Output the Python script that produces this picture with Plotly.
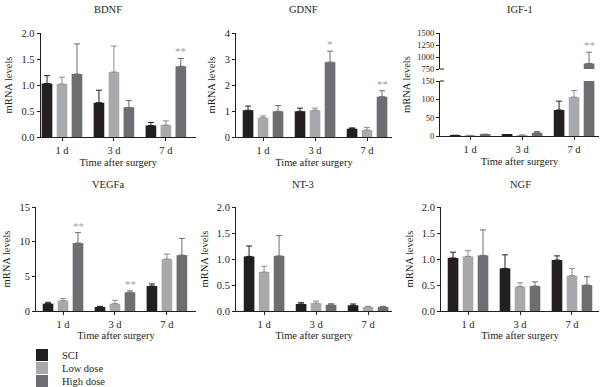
import plotly.graph_objects as go

# ---------------- data ----------------
groups = ["1 d", "3 d", "7 d"]
series_names = ["SCI", "Low dose", "High dose"]

bdnf_sci = [1.03, 0.66, 0.22]
bdnf_sci_err = [0.15, 0.24, 0.06]
bdnf_low = [1.02, 1.25, 0.23]
bdnf_low_err = [0.13, 0.50, 0.08]
bdnf_high = [1.21, 0.57, 1.36]
bdnf_high_err = [0.58, 0.13, 0.15]
bdnf_sig = ["", "", "**"]

gdnf_sci = [1.03, 0.99, 0.32]
gdnf_sci_err = [0.16, 0.12, 0.03]
gdnf_low = [0.74, 1.03, 0.27]
gdnf_low_err = [0.07, 0.08, 0.10]
gdnf_high = [0.99, 2.88, 1.55]
gdnf_high_err = [0.22, 0.42, 0.23]
gdnf_sig = ["", "*", "**"]

igf_sci = [1.5, 3.0, 71]
igf_sci_err = [0.5, 0.5, 24]
igf_low = [1.0, 2.0, 106]
igf_low_err = [1.0, 1.0, 18]
igf_high = [3.0, 9.0, 865]
igf_high_err = [2.0, 3.0, 235]
igf_sig = ["", "", "**"]

vegfa_sci = [1.06, 0.58, 3.6]
vegfa_sci_err = [0.19, 0.10, 0.3]
vegfa_low = [1.5, 1.06, 7.5]
vegfa_low_err = [0.3, 0.48, 0.7]
vegfa_high = [9.8, 2.7, 8.06]
vegfa_high_err = [1.5, 0.2, 2.41]
vegfa_sig = ["**", "**", ""]

nt3_sci = [1.05, 0.135, 0.11]
nt3_sci_err = [0.20, 0.025, 0.025]
nt3_low = [0.75, 0.15, 0.08]
nt3_low_err = [0.11, 0.04, 0.01]
nt3_high = [1.06, 0.12, 0.08]
nt3_high_err = [0.39, 0.02, 0.01]
nt3_sig = ["", "", ""]

ngf_sci = [1.02, 0.82, 0.98]
ngf_sci_err = [0.11, 0.26, 0.08]
ngf_low = [1.05, 0.47, 0.68]
ngf_low_err = [0.11, 0.07, 0.14]
ngf_high = [1.07, 0.48, 0.50]
ngf_high_err = [0.49, 0.08, 0.16]
ngf_sig = ["", "", ""]

# ---------------- style ----------------
FONT = "Liberation Serif"
FS = 10.5
INK = "#231f20"
colors = ["#231f20", "#a7a9ac", "#6d6e71"]
err_colors = ["#231f20", "#8a8c8e", "#6d6e71"]
SIG_COLOR = "#a0a2a5"

W, H = 600, 387
def px_x(p):
    return p / W
def px_y(p):
    return 1 - p / H

fig = go.Figure()

panels = [
    dict(name="BDNF", xa="x", ya="y",
         data=[(bdnf_sci, bdnf_sci_err), (bdnf_low, bdnf_low_err), (bdnf_high, bdnf_high_err)],
         sig=bdnf_sig, xd=(40.7, 196), yd=(137, 33), xr=[-0.41, 2.58], yr=[0, 2], dt=0.5, fmt=".1f",
         title_x=108, title_y=9),
    dict(name="GDNF", xa="x2", ya="y2",
         data=[(gdnf_sci, gdnf_sci_err), (gdnf_low, gdnf_low_err), (gdnf_high, gdnf_high_err)],
         sig=gdnf_sig, xd=(236, 392), yd=(137, 33), xr=[-0.52, 2.48], yr=[0, 4], dt=1, fmt="d",
         title_x=303, title_y=9),
    dict(name="VEGFa", xa="x5", ya="y5",
         data=[(vegfa_sci, vegfa_sci_err), (vegfa_low, vegfa_low_err), (vegfa_high, vegfa_high_err)],
         sig=vegfa_sig, xd=(36, 196), yd=(311, 207), xr=[-0.52, 2.56], yr=[0, 15], dt=5, fmt="d",
         title_x=108, title_y=184),
    dict(name="NT-3", xa="x6", ya="y6",
         data=[(nt3_sci, nt3_sci_err), (nt3_low, nt3_low_err), (nt3_high, nt3_high_err)],
         sig=nt3_sig, xd=(236, 392), yd=(311, 207), xr=[-0.54, 2.46], yr=[0, 2], dt=0.5, fmt=".1f",
         title_x=303, title_y=184),
    dict(name="NGF", xa="x7", ya="y7",
         data=[(ngf_sci, ngf_sci_err), (ngf_low, ngf_low_err), (ngf_high, ngf_high_err)],
         sig=ngf_sig, xd=(441, 599), yd=(311, 207), xr=[-0.52, 2.52], yr=[0, 2], dt=0.5, fmt=".1f",
         title_x=520, title_y=184),
]

xs = [0, 1, 2]
tickfont = dict(family=FONT, size=FS, color=INK)
titlefont = dict(family=FONT, size=FS, color=INK)

def axis_name(a):
    return ("xaxis" if a.startswith("x") else "yaxis") + a[1:]

def add_bars(xa, ya, data, legend_first=False):
    for i, (vals, errs) in enumerate(data):
        if legend_first:
            kw = dict(showlegend=True, legend=["legend", "legend2", "legend3"][i])
        else:
            kw = dict(showlegend=False)
        fig.add_trace(go.Bar(
            x=xs, y=vals, name=series_names[i], xaxis=xa, yaxis=ya,
            marker=dict(color=colors[i], line=dict(width=0)),
            error_y=dict(type="data", array=errs, arrayminus=[0] * len(errs), symmetric=False,
                         color=err_colors[i], thickness=1, width=3),
            **kw))

def sig_annotations(xa, ya, data, sig):
    vals, errs = data[2]
    for j, s in enumerate(sig):
        if s:
            fig.add_annotation(x=xs[j] + 0.29, y=vals[j] + errs[j], xref=xa, yref=ya,
                               text=s, showarrow=False, yanchor="bottom", yshift=-1,
                               font=dict(family=FONT, size=11, color=SIG_COLOR))

def xaxis_dict(domain, anchor, rng, standoff):
    return dict(domain=domain, anchor=anchor, range=rng, tickvals=xs, ticktext=groups,
                showline=True, linecolor=INK, linewidth=1, ticks="outside", ticklen=3,
                tickcolor=INK, tickfont=tickfont, showgrid=False, zeroline=False,
                automargin=False,
                title=dict(text="Time after surgery", font=titlefont, standoff=standoff))

def yaxis_dict(domain, anchor, rng, dt, fmt, tick0=0, title=True, tf=None):
    d = dict(domain=domain, anchor=anchor, range=rng, dtick=dt, tick0=tick0, tickformat=fmt,
             showline=True, linecolor=INK, linewidth=1, ticks="outside", ticklen=3,
             tickcolor=INK, tickfont=tf or tickfont, showgrid=False, zeroline=False,
             automargin=False)
    if title:
        d["title"] = dict(text="mRNA levels", font=titlefont, standoff=6)
    return d

layout_axes = {}
for k, p in enumerate(panels):
    add_bars(p["xa"], p["ya"], p["data"], legend_first=(k == 0))
    sig_annotations(p["xa"], p["ya"], p["data"], p["sig"])
    row1 = p["yd"][0] < 200
    layout_axes[axis_name(p["xa"])] = xaxis_dict(
        [px_x(p["xd"][0]), px_x(p["xd"][1])], p["ya"], p["xr"], 4 if row1 else 0)
    layout_axes[axis_name(p["ya"])] = yaxis_dict(
        [px_y(p["yd"][0]), px_y(p["yd"][1])], p["xa"], p["yr"], p["dt"], p["fmt"])
    fig.add_annotation(x=px_x(p["title_x"]), y=px_y(p["title_y"]), xref="paper", yref="paper",
                       text=p["name"], showarrow=False, xanchor="center", yanchor="middle",
                       font=titlefont)

# ---- IGF-1 with broken y axis ----
igf_tickfont = dict(family=FONT, size=8.5, color=INK)
igf_data = [(igf_sci, igf_sci_err), (igf_low, igf_low_err), (igf_high, igf_high_err)]
add_bars("x3", "y3", igf_data)
add_bars("x4", "y4", igf_data)
sig_annotations("x4", "y4", igf_data, igf_sig)
igf_xd = [px_x(440), px_x(599)]
igf_xr = [-0.58, 2.48]
TOP_BOT, BOT_TOP = 69, 81
layout_axes["xaxis3"] = xaxis_dict(igf_xd, "y3", igf_xr, 4)
layout_axes["yaxis3"] = yaxis_dict([px_y(136), px_y(BOT_TOP)], "x3", [0, 150], 50, "d",
                                   title=False, tf=igf_tickfont)
layout_axes["xaxis4"] = dict(domain=igf_xd, anchor="y4", range=igf_xr, visible=False)
layout_axes["yaxis4"] = yaxis_dict([px_y(TOP_BOT), px_y(33)], "x4", [750, 1500], 250, "d",
                                   tick0=750, title=False, tf=igf_tickfont)
fig.add_annotation(x=px_x(406), y=px_y(85), xref="paper", yref="paper", text="mRNA levels",
                   textangle=-90, showarrow=False, xanchor="center", yanchor="middle",
                   font=titlefont)
fig.add_annotation(x=px_x(520), y=px_y(9), xref="paper", yref="paper", text="IGF-1",
                   showarrow=False, xanchor="center", yanchor="middle", font=titlefont)
# small break marks on the IGF-1 y axis
fig.add_shape(type="line", xref="paper", yref="paper", x0=px_x(440), x1=px_x(444),
              y0=px_y(TOP_BOT), y1=px_y(TOP_BOT), line=dict(color=INK, width=1))
fig.add_shape(type="line", xref="paper", yref="paper", x0=px_x(440), x1=px_x(444),
              y0=px_y(BOT_TOP), y1=px_y(BOT_TOP), line=dict(color=INK, width=1))

legend_common = dict(font=dict(family=FONT, size=FS, color=INK), bgcolor="rgba(0,0,0,0)",
                     xanchor="left", yanchor="middle", orientation="v", borderwidth=0,
                     itemclick=False, itemdoubleclick=False)
fig.update_layout(
    width=W, height=H, margin=dict(l=0, r=0, t=0, b=0, autoexpand=False),
    paper_bgcolor="white", plot_bgcolor="white",
    barmode="group", bargap=0.135, bargroupgap=0.29,
    font=dict(family=FONT, size=FS, color=INK),
    legend=dict(x=px_x(22), y=px_y(355), **legend_common),
    legend2=dict(x=px_x(22), y=px_y(368), **legend_common),
    legend3=dict(x=px_x(22), y=px_y(381), **legend_common),
    **layout_axes,
)

fig.write_html("out.html", config={"displayModeBar": False},
               post_script="document.body.style.margin='0';document.body.style.overflow='hidden';")
